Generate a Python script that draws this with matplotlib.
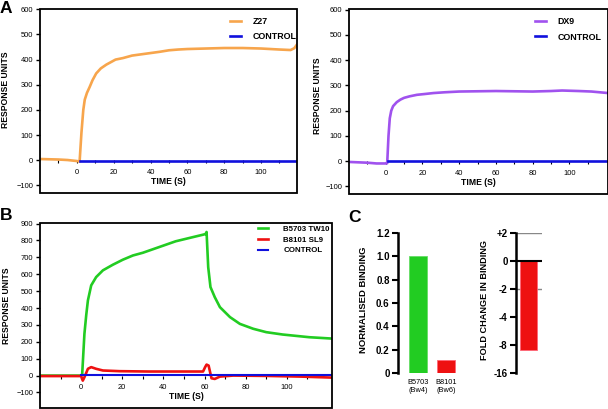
import numpy as np
import matplotlib
matplotlib.use('Agg')
import matplotlib.pyplot as plt
from matplotlib.patches import Rectangle

plt.rcParams['font.family'] = ['Liberation Sans', 'DejaVu Sans']

# ---- data ----
z27_t = [-20, -15, -10, -5, 0, 1.5, 2.5, 3.5, 4.3, 5.5, 7, 8.5, 10.5, 13, 16, 21, 25, 30,
         35, 40, 45, 50, 55, 60, 70, 80, 90, 100, 105, 110, 116, 118, 119.5]
z27_ru = [5, 4, 3, 1, -3, -5, 110, 200, 241, 268, 292, 318, 345, 365, 380, 400, 406, 416,
          421, 426, 431, 437, 440, 442, 444, 446, 446, 444, 442, 440, 438, 445, 460]
ctrl_a_t = [1.5, 60, 121]
ctrl_a_ru = [-1, -1, -1]

dx9_t = [-20, -10, -5, 0, 0.8, 1.5, 2.2, 3, 4, 6, 8, 10, 13, 17, 21, 26, 32, 40, 50, 60,
         70, 80, 90, 96, 105, 112, 118, 121]
dx9_ru = [-3, -6, -9, -9, -8, 100, 170, 200, 218, 234, 244, 251, 257, 263, 266, 270, 273,
          276, 277, 278, 277, 276, 278, 280, 278, 276, 272, 270]

b5703_t = [-20, -10, 0, 0.5, 1.6, 2.5, 3.3, 4.9, 7.3, 10.6, 15.4, 20.3, 25.2, 30, 38, 46,
           54.5, 59.3, 60.5, 61, 61.8, 62.9, 65, 67.5, 72.4, 77.2, 83.7, 90, 98, 111, 122]
b5703_ru = [0, 0, 0, 5, 247, 360, 445, 534, 583, 623, 656, 686, 711, 727, 761, 795,
            820, 834, 838, 850, 642, 524, 464, 405, 346, 306, 277, 257, 243, 227, 219]
b8101_t = [-20, -10, 0, 0.8, 1.6, 3.3, 4.9, 7.3, 10.6, 18.7, 33, 49.6, 59.3, 60.3, 61, 62,
           63.4, 65, 67.5, 74, 90, 106.5, 122]
b8101_ru = [-3, -3, -3, -30, -10, 40, 50, 40, 30, 26, 24, 24, 24, 50, 65, 59,
            -16, -20, -6, 0, -2, -6, -12]
ctrl_b_t = [0, 60, 122]
ctrl_b_ru = [1, 1, 1]

alleles = ['B5703\n(Bw4)', 'B8101\n(Bw6)']
norm_binding = [1.0, 0.11]
fold_change = [-9.1]
fold_ticks = [2, 0, -2, -4, -8, -16]
fold_labels = ['+2', '0', '-2', '-4', '-8', '-16']

ORANGE, PURPLE = '#f7a54c', '#a052ee'
GREEN, RED, BLUE = '#22cc22', '#ee1111', '#1010dd'

W, H = 608, 409
fig = plt.figure(figsize=(W / 100, H / 100), dpi=100)


def px_axes(left, top, right, bottom):
    return fig.add_axes([left / W, 1 - bottom / H, (right - left) / W, (bottom - top) / H])


def sensorgram(ax, xlim, ylim, yticks):
    ax.set_xlim(*xlim)
    ax.set_ylim(*ylim)
    for s in ax.spines.values():
        s.set_visible(False)
    ax.spines['bottom'].set_position(('data', 0))
    ax.add_patch(Rectangle((0, 0), 1, 1, transform=ax.transAxes, fill=False,
                           lw=1.3, ec='black', clip_on=False, zorder=5))
    ax.set_xticks(range(0, 101, 20))
    ax.set_xticks(range(-10, 111, 10), minor=True)
    ax.set_yticks(yticks)
    ax.tick_params(axis='x', which='both', direction='out', length=2, width=0.8,
                   labelsize=5.4, pad=4)
    ax.tick_params(axis='y', direction='out', length=3, width=1, labelsize=5.4, pad=2)
    ax.set_xlabel('TIME (S)', fontsize=6.2, fontweight='bold', labelpad=1)
    ax.set_ylabel('RESPONSE UNITS', fontsize=6.2, fontweight='bold')


# ---- A, left ----
ax1 = px_axes(40, 8.5, 297, 193)
ax1.plot(z27_t, z27_ru, color=ORANGE, lw=1.9, label='Z27')
ax1.plot(ctrl_a_t, ctrl_a_ru, color=BLUE, lw=1.9, label='CONTROL')
sensorgram(ax1, (-20, 119.5), (-130, 603), range(-100, 601, 100))
ax1.yaxis.set_label_coords(-0.118, 0.56)
ax1.legend(loc='upper left', bbox_to_anchor=(0.74, 0.955), frameon=False,
           prop={'size': 6.4, 'weight': 'bold'}, handlelength=1.2, handletextpad=1.3,
           labelspacing=0.7, borderpad=0, borderaxespad=0)

# ---- A, right ----
ax2 = px_axes(349, 9, 608, 194)
ax2.plot(dx9_t, dx9_ru, color=PURPLE, lw=1.9, label='DX9')
ax2.plot(ctrl_a_t, ctrl_a_ru, color=BLUE, lw=1.9, label='CONTROL')
sensorgram(ax2, (-20, 121), (-130, 603), range(-100, 601, 100))
ax2.yaxis.set_label_coords(-0.105, 0.53)
ax2.legend(loc='upper left', bbox_to_anchor=(0.72, 0.955), frameon=False,
           prop={'size': 6.4, 'weight': 'bold'}, handlelength=1.2, handletextpad=1.3,
           labelspacing=0.7, borderpad=0, borderaxespad=0)

# ---- B ----
ax3 = px_axes(40, 222.7, 332, 408)
ax3.plot(b5703_t, b5703_ru, color=GREEN, lw=1.9, label='B5703 TW10')
ax3.plot(b8101_t, b8101_ru, color=RED, lw=1.9, label='B8101 SL9')
ax3.plot(ctrl_b_t, ctrl_b_ru, color=BLUE, lw=1.5, label='CONTROL')
sensorgram(ax3, (-20, 122), (-192, 905), range(-100, 901, 100))
ax3.yaxis.set_label_coords(-0.098, 0.55)
ax3.legend(loc='upper left', bbox_to_anchor=(0.747, 0.985), frameon=False,
           prop={'size': 5.7, 'weight': 'bold'}, handlelength=1.3, handletextpad=1.9,
           labelspacing=0.4, borderpad=0, borderaxespad=0)

# ---- C, normalised binding ----
ax4 = px_axes(398, 233, 464, 373)
ax4.bar(range(len(alleles)), norm_binding, width=0.65, color=[GREEN, RED],
        edgecolor=['#66dd66', '#ff6677'], lw=0.6)
ax4.set_xlim(-0.727, 1.65)
ax4.set_ylim(0, 1.2)
ax4.set_yticks(np.arange(0, 1.21, 0.2))
ax4.set_yticklabels(['0', '0.2', '0.4', '0.6', '0.8', '1.0', '1.2'])
for s in ['top', 'right', 'bottom']:
    ax4.spines[s].set_visible(False)
ax4.spines['left'].set_linewidth(1.8)
ax4.tick_params(axis='y', direction='out', length=4, width=1.5, labelsize=7, pad=2)
for lab in ax4.get_yticklabels():
    lab.set_fontweight('bold')
ax4.set_xticks(range(len(alleles)))
ax4.set_xticklabels(alleles, fontsize=5.3, linespacing=1.3)
ax4.tick_params(axis='x', length=0, pad=4)
ax4.set_ylabel('NORMALISED BINDING', fontsize=6.8, fontweight='bold')
ax4.yaxis.set_label_coords(-0.45, 0.52)


# ---- C, fold change (log2 spacing, linear through 0) ----
def fwd(v):
    v = np.asarray(v, dtype=float)
    a = np.abs(v)
    return np.where(a < 2, v / 2, np.sign(v) * np.log2(np.maximum(a, 1e-12)))


def inv(y):
    y = np.asarray(y, dtype=float)
    a = np.abs(y)
    return np.where(a < 1, 2 * y, np.sign(y) * 2 ** a)


ax5 = px_axes(516, 233, 542, 373)
ax5.set_yscale('function', functions=(fwd, inv))
ax5.set_xlim(0, 1)
ax5.set_ylim(-16, 2)
ax5.axhline(2, color='#888888', lw=1.0, zorder=1)
ax5.axhline(-2, color='#888888', lw=1.0, zorder=1)
ax5.bar([0.48], fold_change, width=0.65, color=RED, edgecolor='#ff6677', lw=0.6, zorder=2)
ax5.axhline(0, color='black', lw=1.5, zorder=3)
ax5.set_yticks(fold_ticks)
ax5.set_yticklabels(fold_labels)
ax5.minorticks_off()
ax5.set_xticks([])
for s in ['top', 'right', 'bottom']:
    ax5.spines[s].set_visible(False)
ax5.spines['left'].set_linewidth(1.8)
ax5.tick_params(axis='y', direction='out', length=4, width=1.5, labelsize=7, pad=2)
for lab in ax5.get_yticklabels():
    lab.set_fontweight('bold')
ax5.set_ylabel('FOLD CHANGE IN BINDING', fontsize=6.6, fontweight='bold')
ax5.yaxis.set_label_coords(-1.05, 0.52)

# panel letters
fig.text(0 / W, 1 - 1 / H, 'A', fontsize=12.5, fontweight='bold', va='top', ha='left')
fig.text(0 / W, 1 - 208 / H, 'B', fontsize=12.5, fontweight='bold', va='top', ha='left')
fig.text(348 / W, 1 - 210 / H, 'C', fontsize=12.5, fontweight='bold', va='top', ha='left')

fig.savefig('out.png', dpi=100)
